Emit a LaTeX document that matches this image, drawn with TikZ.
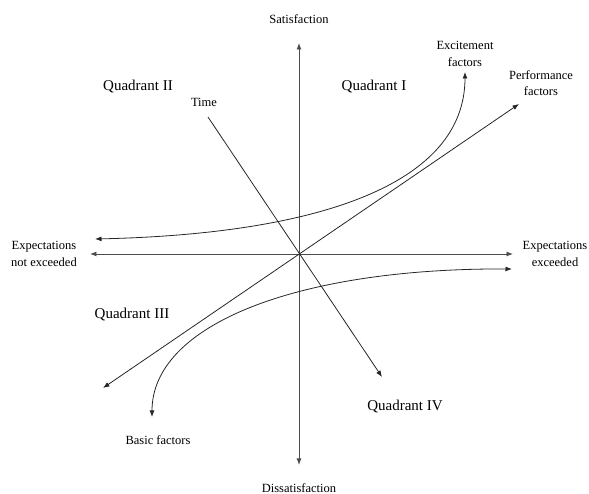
\documentclass[tikz,border=0pt]{standalone}
\usepackage{fontspec}
\setmainfont{Liberation Serif}
\usetikzlibrary{arrows.meta}
\tikzset{
  tip/.style      = {-{Latex[length=6.5pt,width=5pt]}},
  axisline/.style = {{Latex[length=6.5pt,width=5pt]}-{Latex[length=6.5pt,width=5pt]},
                     line width=0.9pt, draw=black!70},
  conn/.style     = {tip, line width=0.8pt, draw=black!85},
  twoway/.style   = {conn, {Latex[length=6.5pt,width=5pt]}-{Latex[length=6.5pt,width=5pt]}},
  axlabel/.style  = {font=\fontsize{12.5}{16.5}\selectfont, align=center, inner sep=0pt},
  quadlabel/.style = {font=\fontsize{15}{18}\selectfont, inner sep=0pt}
}

\begin{document}
\begin{tikzpicture}[x=1pt,y=1pt]
\useasboundingbox (-299,-240) rectangle (290,254);

% origin and free ends of the lines
\coordinate (o)     at (0,0);
\coordinate (ytop)  at (0,211);
\coordinate (ybot)  at (0,-211);
\coordinate (xleft) at (-209,0);
\coordinate (xright) at (214,0);
\coordinate (tstart) at (-91,137);
\coordinate (tend)   at (83,-123);
\coordinate (pstart) at (-196,-134);
\coordinate (pend)   at (220,150);
\coordinate (estart) at (-204,15);
\coordinate (eend)   at (166,182);
\coordinate (bstart) at (-147,-163);
\coordinate (bend)   at (213,-15);

% --- axis labels ---
\node[axlabel] (sat)    at (0,235)   {Satisfaction};
\node[axlabel] (dissat) at (0,-234)  {Dissatisfaction};
\node[axlabel] (notexc) at (-255,0)  {Expectations\\not exceeded};
\node[axlabel] (exc)    at (256,0)   {Expectations\\exceeded};

% --- quadrant labels ---
\node[quadlabel] (q1) at (75,167)    {Quadrant I};
\node[quadlabel] (q2) at (-161,167)  {Quadrant II};
\node[quadlabel] (q3) at (-167,-61)  {Quadrant III};
\node[quadlabel] (q4) at (106,-153)  {Quadrant IV};

% --- curve labels ---
\node[axlabel] (time)  at (-95,152)  {Time};
\node[axlabel] (perf)  at (242,171)  {Performance\\factors};
\node[axlabel] (excit) at (166,200)  {Excitement\\factors};
\node[axlabel] (basic) at (-141,-186) {Basic factors};

% --- axes ---
\draw[axisline] (ybot) -- (ytop);
\draw[axisline] (xleft) -- (xright);

% --- time and performance (straight) ---
\draw[conn] (tstart) -- (tend);
\draw[twoway] (pstart) -- (pend);

% --- excitement and basic factors (curved) ---
\draw[twoway] (estart) .. controls (20,20) and (166,70) .. (eend);
\draw[twoway] (bstart) .. controls (-147,-70) and (0,-14) .. (bend);

\end{tikzpicture}
\end{document}
